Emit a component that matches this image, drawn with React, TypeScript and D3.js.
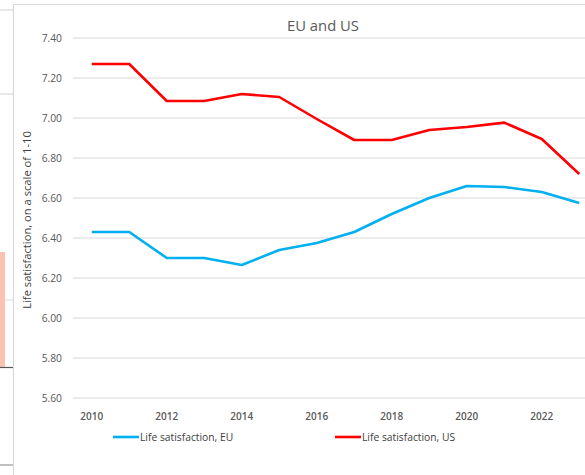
import React from "react";
import * as d3 from "d3";

const years = [2010, 2011, 2012, 2013, 2014, 2015, 2016, 2017, 2018, 2019, 2020, 2021, 2022, 2023];
const euValues = [6.43, 6.43, 6.30, 6.30, 6.265, 6.34, 6.375, 6.43, 6.52, 6.60, 6.66, 6.655, 6.63, 6.575];
const usValues = [7.27, 7.27, 7.085, 7.085, 7.12, 7.105, 6.995, 6.89, 6.89, 6.94, 6.955, 6.977, 6.895, 6.72];
const yTicks = [5.6, 5.8, 6.0, 6.2, 6.4, 6.6, 6.8, 7.0, 7.2, 7.4];
const xTickYears = [2010, 2012, 2014, 2016, 2018, 2020, 2022];
const seriesNames = ["Life satisfaction, EU", "Life satisfaction, US"];
const seriesColors = ["#00B0F0", "#FF0000"];
const title = "EU and US";
const yTitle = "Life satisfaction, on a scale of 1-10";

const W = 585;
const H = 475;
const font = "'Open Sans', 'Noto Sans', sans-serif";

export default function App() {
  const plotLeft = 73;
  const band = 37.5;
  const x = d3
    .scaleLinear()
    .domain([2010, 2011])
    .range([plotLeft + band / 2, plotLeft + band * 1.5]);
  const y = d3.scaleLinear().domain([5.6, 7.4]).range([398, 38]);
  const line = d3
    .line<number>()
    .x((_, i) => x(years[i]))
    .y((d) => y(d));
  const allSeries = [euValues, usValues];

  return (
    <div style={{ position: "fixed", left: 0, top: 0, width: W, height: H, background: "#fff" }}>
      <svg width={W} height={H} style={{ display: "block" }}>
        <rect x={0} y={0} width={W} height={H} fill="#ffffff" />
        {/* background artefacts of the neighbouring window */}
        <line x1={0} x2={13} y1={10} y2={10} stroke="#D9D9D9" strokeWidth={1.2} />
        <line x1={0} x2={13} y1={94} y2={94} stroke="#D9D9D9" strokeWidth={1.2} />
        <rect x={0} y={252} width={5} height={115} fill="#FBC2B2" />
        <line x1={5} x2={13} y1={300} y2={300} stroke="#D9D9D9" strokeWidth={1} />
        <line x1={0} x2={13} y1={367.5} y2={367.5} stroke="#555" strokeWidth={1.2} />
        <line x1={0} x2={13} y1={465} y2={465} stroke="#BFBFBF" strokeWidth={2} />
        {/* chart frame */}
        <line x1={13.5} x2={13.5} y1={4} y2={H} stroke="#D9D9D9" strokeWidth={1.2} />
        <line x1={13.5} x2={W} y1={4.5} y2={4.5} stroke="#D9D9D9" strokeWidth={1.2} />

        <text x={323} y={26} dy="0.35em" textAnchor="middle" fontFamily={font} fontSize={14.8} fill="#595959">
          {title}
        </text>

        {yTicks.map((t) => (
          <g key={t}>
            <line x1={plotLeft} x2={W} y1={y(t)} y2={y(t)} stroke="#D9D9D9" strokeWidth={1.2} />
            <text
              x={62}
              y={y(t)}
              dy="0.35em"
              textAnchor="end"
              fontFamily={font}
              fontSize={10.3}
              fill="#595959"
            >
              {t.toFixed(2)}
            </text>
          </g>
        ))}

        {xTickYears.map((yr) => (
          <text
            key={yr}
            x={x(yr)}
            y={416}
            dy="0.35em"
            textAnchor="middle"
            fontFamily={font}
            fontSize={10}
            fontWeight={600}
            fill="#595959"
          >
            {yr}
          </text>
        ))}

        <text
          transform={`translate(27,220) rotate(-90)`}
          textAnchor="middle"
          dy="0.35em"
          fontFamily={font}
          fontSize={11.2}
          fill="#404040"
        >
          {yTitle}
        </text>

        {allSeries.map((vals, i) => (
          <path
            key={i}
            d={line(vals) || ""}
            fill="none"
            stroke={seriesColors[i]}
            strokeWidth={2.6}
            strokeLinejoin="round"
          />
        ))}

        {seriesNames.map((name, i) => {
          const lx = i === 0 ? 113 : 335;
          return (
            <g key={name}>
              <line x1={lx} x2={lx + 26} y1={437} y2={437} stroke={seriesColors[i]} strokeWidth={2.6} />
              <text x={lx + 27} y={437} dy="0.35em" fontFamily={font} fontSize={10.3} fill="#404040">
                {name}
              </text>
            </g>
          );
        })}
      </svg>
    </div>
  );
}
